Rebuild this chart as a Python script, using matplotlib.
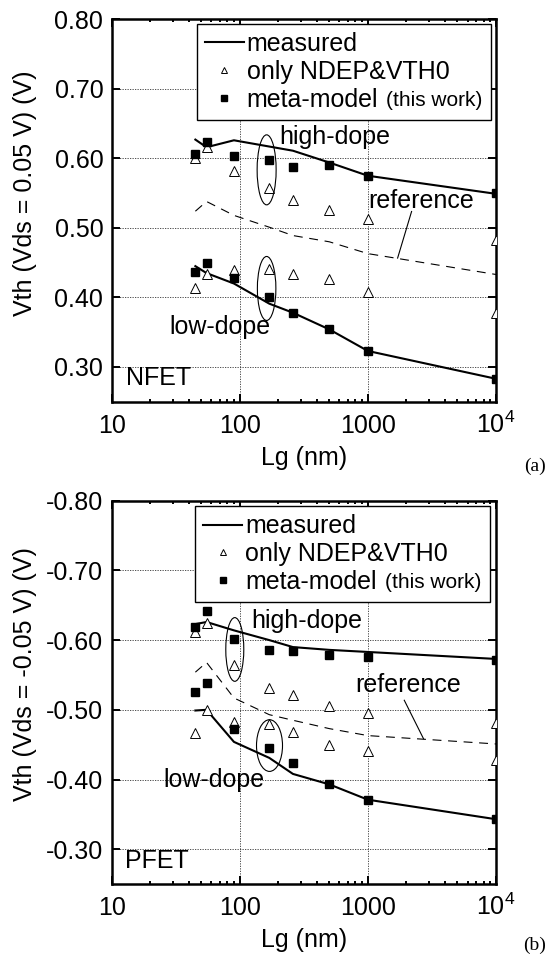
import numpy as np
import matplotlib
matplotlib.use('Agg')
import matplotlib.pyplot as plt
from matplotlib.patches import Ellipse
from matplotlib.lines import Line2D
from matplotlib.ticker import LogLocator, NullFormatter

plt.rcParams['font.family'] = ['Liberation Sans', 'DejaVu Sans']
plt.rcParams['mathtext.fontset'] = 'custom'
plt.rcParams['mathtext.rm'] = 'Liberation Sans'

# gate length (nm)
lg_nm = [45, 55, 90, 170, 260, 500, 1000, 10000]
xtick_vals = [10, 100, 1000, 10000]
xtick_labels = ['10', '100', '1000', r'$10^4$']

# NFET Vth (V)
n_meas_high = [0.627, 0.616, 0.626, 0.617, 0.611, 0.594, 0.575, 0.549]
n_meta_high = [0.606, 0.624, 0.604, 0.597, 0.587, 0.590, 0.575, 0.550]
n_only_high = [0.600, 0.616, 0.582, 0.557, 0.540, 0.526, 0.513, 0.482]
n_ref = [0.524, 0.538, 0.518, 0.501, 0.489, 0.480, 0.463, 0.433]
n_meas_low = [0.445, 0.435, 0.420, 0.391, 0.378, 0.354, 0.323, 0.283]
n_meta_low = [0.437, 0.450, 0.428, 0.400, 0.378, 0.354, 0.323, 0.283]
n_only_low = [0.413, 0.434, 0.439, 0.441, 0.433, 0.426, 0.408, 0.378]
n_yticks = [0.30, 0.40, 0.50, 0.60, 0.70, 0.80]

# PFET Vth (V)
p_meas_high = [-0.623, -0.626, -0.614, -0.600, -0.590, -0.586, -0.583, -0.573]
p_meta_high = [-0.619, -0.642, -0.602, -0.586, -0.584, -0.579, -0.576, -0.572]
p_only_high = [-0.611, -0.625, -0.564, -0.531, -0.521, -0.505, -0.495, -0.481]
p_ref = [-0.554, -0.568, -0.517, -0.493, -0.485, -0.473, -0.463, -0.451]
p_meas_low = [-0.499, -0.500, -0.454, -0.431, -0.408, -0.393, -0.371, -0.343]
p_meta_low = [-0.526, -0.539, -0.473, -0.445, -0.424, -0.393, -0.371, -0.343]
p_only_low = [-0.467, -0.500, -0.482, -0.479, -0.468, -0.450, -0.441, -0.428]
p_yticks = [-0.30, -0.40, -0.50, -0.60, -0.70, -0.80]

FS = 18


def draw_panel(ax, meas_h, meta_h, only_h, ref, meas_l, meta_l, only_l, ylim, yticks, ylabel):
    ax.set_xscale('log')
    ax.set_xlim(10, 1e4)
    ax.set_ylim(*ylim)

    ax.plot(lg_nm, meas_h, '-', color='k', lw=1.5, zorder=3)
    ax.plot(lg_nm, meas_l, '-', color='k', lw=1.5, zorder=3)
    ax.plot(lg_nm, ref, color='k', lw=0.8, dashes=(8, 6), zorder=3)
    for v in (only_h, only_l):
        ax.plot(lg_nm, v, ls='none', marker='^', ms=6.5, mfc='white', mec='k', mew=0.7, zorder=4)
    for v in (meta_h, meta_l):
        ax.plot(lg_nm, v, ls='none', marker='s', ms=5.5, mfc='k', mec='k', zorder=5)

    ax.set_xticks(xtick_vals)
    ax.set_xticklabels(xtick_labels)
    ax.xaxis.set_minor_locator(LogLocator(base=10, subs=np.arange(2, 10)))
    ax.xaxis.set_minor_formatter(NullFormatter())
    ax.set_yticks(yticks)
    ax.set_yticklabels(['%.2f' % v for v in yticks])
    ax.tick_params(which='both', direction='in', top=True, right=True, labelsize=FS)
    ax.tick_params(which='major', length=5.5, width=1.4)
    ax.tick_params(which='minor', length=2.5, width=1.4)
    ax.tick_params(axis='x', pad=22.5)
    ax.tick_params(axis='y', pad=6)
    for lab in ax.get_xticklabels():
        lab.set_verticalalignment('baseline')
    for s in ax.spines.values():
        s.set_linewidth(1.8)
    ax.grid(True, which='major', color='#333333', lw=0.6, ls=(0, (1.5, 1.5)))

    ax.set_xlabel('Lg (nm)', fontsize=FS, va='top')
    ax.xaxis.set_label_coords(0.5, -0.115)
    ax.set_ylabel(ylabel, fontsize=FS)


def add_ellipse(ax, x, y, w_px, h_px):
    cx, cy = (ax.transScale + ax.transLimits).transform((x, y))
    bb = ax.get_position()
    w = w_px / (bb.width * 554)
    h = h_px / (bb.height * 965)
    ax.add_patch(Ellipse((cx, cy), w, h, transform=ax.transAxes, fill=False,
                         ec='k', lw=0.8, zorder=6))


def add_legend(ax, anchor):
    handles = [Line2D([], [], color='k', lw=1.5),
               Line2D([], [], ls='none', marker='^', ms=5, mfc='white', mec='k', mew=0.7),
               Line2D([], [], ls='none', marker='s', ms=5, mfc='k', mec='k')]
    leg = ax.legend(handles, ['measured', 'only NDEP&VTH0', 'meta-model'],
                    loc='upper left', bbox_to_anchor=anchor, mode='expand',
                    borderaxespad=0, fontsize=FS, handlelength=1.55, handletextpad=0.12,
                    labelspacing=0.15, borderpad=0.33, fancybox=False, framealpha=1,
                    edgecolor='k')
    leg.get_frame().set_linewidth(1.0)
    leg.set_zorder(10)
    ax.annotate('(this work)', xy=(1, 0), xycoords=leg.get_texts()[2],
                xytext=(6, 1), textcoords='offset points', ha='left', va='bottom',
                fontsize=15, zorder=11)


fig = plt.figure(figsize=(5.54, 9.65), dpi=100)
ax1 = fig.add_axes([0.2016, 0.5837, 0.6937, 0.3963])
ax2 = fig.add_axes([0.2016, 0.0839, 0.6937, 0.3972])

# (a) NFET
draw_panel(ax1, n_meas_high, n_meta_high, n_only_high, n_ref, n_meas_low, n_meta_low, n_only_low,
           (0.25, 0.80), n_yticks, 'Vth (Vds = 0.05 V) (V)')
ax1.yaxis.set_label_coords(-0.195, 0.545)
add_legend(ax1, (0.221, 0.737, 0.767, 0.251))
add_ellipse(ax1, 162, 0.5835, 19, 70)
add_ellipse(ax1, 162, 0.4129, 18.5, 64)
ax1.text(205, 0.631, 'high-dope', fontsize=FS, va='center')
ax1.text(1000, 0.5394, 'reference', fontsize=FS, va='center')
ax1.text(28.4, 0.3577, 'low-dope', fontsize=FS, va='center')
ax1.text(12.9, 0.2844, 'NFET', fontsize=FS, va='center')
ax1.plot([2193, 1706], [0.5236, 0.4566], color='k', lw=0.8)

# (b) PFET
draw_panel(ax2, p_meas_high, p_meta_high, p_only_high, p_ref, p_meas_low, p_meta_low, p_only_low,
           (-0.25, -0.80), p_yticks, 'Vth (Vds = -0.05 V) (V)')
ax2.yaxis.set_label_coords(-0.195, 0.548)
add_legend(ax2, (0.2168, 0.734, 0.767, 0.252))
add_ellipse(ax2, 91.4, -0.5866, 18, 63.7)
add_ellipse(ax2, 170.6, -0.4487, 26, 51.7)
ax2.text(121.9, -0.6276, 'high-dope', fontsize=FS, va='center')
ax2.text(794, -0.5352, 'reference', fontsize=FS, va='center')
ax2.text(25.3, -0.3987, 'low-dope', fontsize=FS, va='center')
ax2.text(12.7, -0.2828, 'PFET', fontsize=FS, va='center')
ax2.plot([1923, 2716], [-0.5137, -0.4586], color='k', lw=0.8)

fig.text(535 / 554, 1 - 466 / 965, '(a)', family='Liberation Serif', fontsize=14, ha='center', va='center')
fig.text(535 / 554, 1 - 945 / 965, '(b)', family='Liberation Serif', fontsize=14, ha='center', va='center')

fig.savefig('out.png', dpi=100)
